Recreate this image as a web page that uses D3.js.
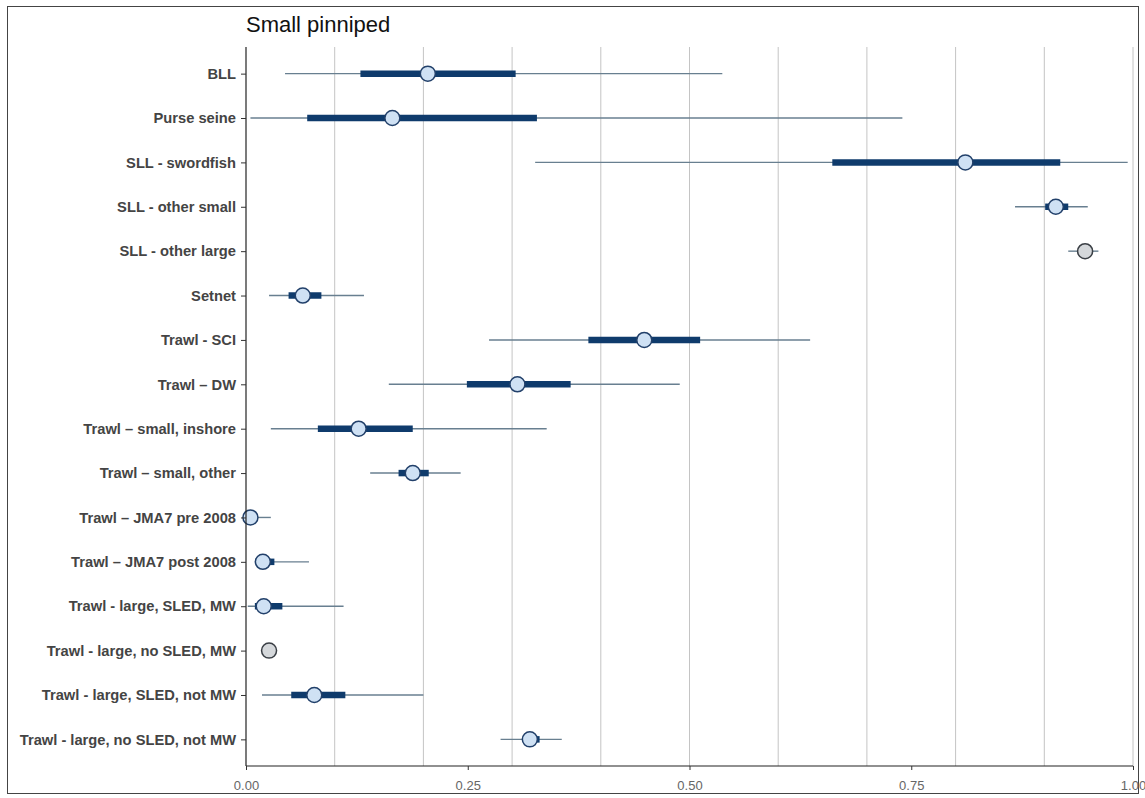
<!DOCTYPE html>
<html><head><meta charset="utf-8">
<script src="https://cdn.jsdelivr.net/npm/d3@7"></script>
<style>body{margin:0;background:#fff;}svg{display:block;}</style>
</head><body>
<script>
const categories = ["BLL","Purse seine","SLL - swordfish","SLL - other small","SLL - other large","Setnet","Trawl - SCI","Trawl \u2013 DW","Trawl \u2013 small, inshore","Trawl \u2013 small, other","Trawl \u2013 JMA7 pre 2008","Trawl \u2013 JMA7 post 2008","Trawl - large, SLED, MW","Trawl - large, no SLED, MW","Trawl - large, SLED, not MW","Trawl - large, no SLED, not MW"];
const outerLow  = [0.044,0.005,0.326,0.867,0.927,0.026,0.274,0.161,0.028,0.140,0.000,0.010,0.002,0.024,0.018,0.287];
const innerLow  = [0.129,0.069,0.661,0.901,0.938,0.048,0.386,0.249,0.081,0.172,0.002,0.012,0.010,0.025,0.051,0.315];
const median    = [0.205,0.165,0.811,0.913,0.946,0.064,0.449,0.306,0.127,0.188,0.005,0.019,0.020,0.026,0.077,0.320];
const innerHigh = [0.304,0.328,0.918,0.927,0.952,0.085,0.512,0.366,0.188,0.206,0.010,0.032,0.041,0.027,0.112,0.331];
const outerHigh = [0.537,0.740,0.994,0.949,0.961,0.133,0.636,0.489,0.339,0.242,0.028,0.071,0.110,0.028,0.200,0.356];
const greyPoint = [false,false,false,false,true,false,false,false,false,false,false,false,false,true,false,false];
const xTicks = [0, 0.25, 0.5, 0.75, 1.0];
const xGrid = [0.1,0.2,0.3,0.4,0.5,0.6,0.7,0.8,0.9,1.0];
const title = "Small pinniped";

(function(){
const W = 1145, H = 798;
const svg = d3.select("body").append("svg").attr("width", W).attr("height", H);
svg.append("rect").attr("x",7.5).attr("y",6.5).attr("width",1131).attr("height",787)
  .attr("fill","#fff").attr("stroke","#444").attr("stroke-width",1);

const pL = 246, pR = 1133, pT = 47, pB = 766;
const x = d3.scaleLinear().domain([0,1]).range([pL,pR]);
const y = d3.scalePoint().domain(categories).range([pT,pB]).padding(0.6);

svg.append("g").selectAll("line").data(xGrid).join("line")
  .attr("x1",d=>x(d)).attr("x2",d=>x(d)).attr("y1",pT).attr("y2",pB)
  .attr("stroke","#c4c4c4").attr("stroke-width",1);

const rows = categories.map((c,i)=>({c,i}));
svg.append("g").selectAll("line").data(rows).join("line")
  .attr("x1",d=>x(outerLow[d.i])).attr("x2",d=>x(outerHigh[d.i]))
  .attr("y1",d=>y(d.c)).attr("y2",d=>y(d.c))
  .attr("stroke","#687f90").attr("stroke-width",1.4);
svg.append("g").selectAll("line").data(rows).join("line")
  .attr("x1",d=>x(innerLow[d.i])).attr("x2",d=>x(innerHigh[d.i]))
  .attr("y1",d=>y(d.c)).attr("y2",d=>y(d.c))
  .attr("stroke","#0f3b6c").attr("stroke-width",6.5);
svg.append("g").selectAll("circle").data(rows).join("circle")
  .attr("cx",d=>x(median[d.i])).attr("cy",d=>y(d.c)).attr("r",7.5)
  .attr("fill",d=>greyPoint[d.i]?"#d5d8db":"#cfe1f4")
  .attr("stroke",d=>greyPoint[d.i]?"#3a3f45":"#22406a").attr("stroke-width",1.5);

const yAxis = svg.append("g").attr("transform",`translate(${pL},0)`)
  .call(d3.axisLeft(y).tickSize(5).tickPadding(5));
yAxis.select(".domain").attr("d",`M0,${pT}V${pB}`).attr("stroke","#222").attr("stroke-width",1.2);
yAxis.selectAll(".tick line").attr("stroke","#333");
yAxis.selectAll("text").attr("font-family","Liberation Sans, Arial, sans-serif")
  .attr("font-size",14.7).attr("font-weight","bold").attr("fill","#444");

const xAxis = svg.append("g").attr("transform",`translate(0,${pB})`)
  .call(d3.axisBottom(x).tickValues(xTicks).tickFormat(d3.format(".2f")).tickSize(4).tickPadding(11));
xAxis.select(".domain").attr("d",`M${pL},0H${pR}`).attr("stroke","#222").attr("stroke-width",1.2);
xAxis.selectAll(".tick line").attr("stroke","#333");
xAxis.selectAll("text").attr("font-family","Liberation Sans Narrow, Liberation Sans, Arial, sans-serif")
  .attr("font-size",13).attr("fill","#666");

svg.append("text").attr("x",pL).attr("y",32).text(title)
  .attr("font-family","Liberation Sans, Arial, sans-serif").attr("font-size",22).attr("fill","#111");
})();
</script>
</body></html>
